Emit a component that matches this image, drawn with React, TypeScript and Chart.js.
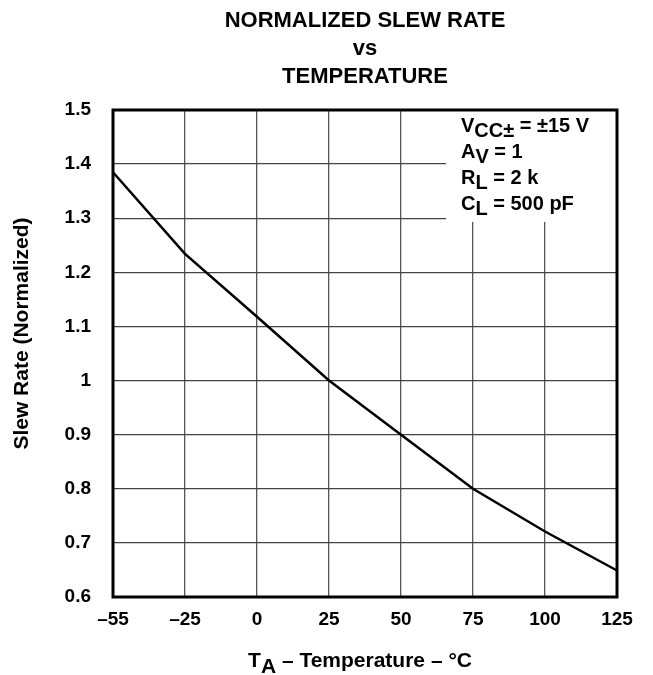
import React, { useEffect, useRef } from "react";
import { Chart, registerables } from "chart.js";

Chart.register(...registerables);

const FONT = "'Liberation Sans', Arial, Helvetica, sans-serif";

const titleLines = ["NORMALIZED SLEW RATE", "vs", "TEMPERATURE"];
const temperatureLabels = ["–55", "–25", "0", "25", "50", "75", "100", "125"];
const slewRate = [1.385, 1.234, 1.118, 1.0, 0.9, 0.8, 0.721, 0.649];
const yMin = 0.6;
const yMax = 1.5;
const yStep = 0.1;
const yAxisTitle = "Slew Rate (Normalized)";
const xAxisTitle = ["T", "A", " – Temperature – °C"];
const conditions: [string, string, string][] = [
  ["V", "CC±", " = ±15 V"],
  ["A", "V", " = 1"],
  ["R", "L", " = 2 k"],
  ["C", "L", " = 500 pF"],
];

function drawSubText(
  ctx: CanvasRenderingContext2D,
  x: number,
  y: number,
  parts: string[],
  shift: number
) {
  let cx = x;
  parts.forEach((p, i) => {
    ctx.fillText(p, cx, i === 1 ? y + shift : y);
    cx += ctx.measureText(p).width;
  });
}

const decor = {
  id: "decor",
  beforeDatasetsDraw(chart: any) {
    const { ctx, chartArea: a } = chart;
    ctx.save();
    ctx.fillStyle = "#ffffff";
    ctx.fillRect(a.right - 171, a.top, 171, 112);
    ctx.restore();
  },
  afterDraw(chart: any) {
    const { ctx, chartArea: a } = chart;
    ctx.save();
    // frame
    ctx.strokeStyle = "#000";
    ctx.lineWidth = 3;
    ctx.strokeRect(a.left, a.top, a.right - a.left, a.bottom - a.top);

    ctx.fillStyle = "#000";
    ctx.textBaseline = "alphabetic";
    ctx.textAlign = "left";
    // conditions box
    ctx.font = `bold 20px ${FONT}`;
    conditions.forEach((c, i) => {
      drawSubText(ctx, a.right - 156, a.top + 22 + i * 26, c, 5);
    });

    // x axis title
    ctx.font = `bold 21px ${FONT}`;
    const w = xAxisTitle.reduce((s, p) => s + ctx.measureText(p).width, 0);
    const cx = (a.left + a.right) / 2 - 5;
    drawSubText(ctx, cx - w / 2, a.bottom + 70, xAxisTitle, 6);

    // y axis title
    ctx.translate(22, (a.top + a.bottom) / 2 - 20);
    ctx.rotate(-Math.PI / 2);
    ctx.textAlign = "center";
    ctx.textBaseline = "middle";
    ctx.fillText(yAxisTitle, 0, 0);
    ctx.restore();
  },
};

export default function App() {
  const ref = useRef<HTMLCanvasElement | null>(null);

  useEffect(() => {
    if (!ref.current) return;
    const chart = new Chart(ref.current, {
      type: "line",
      data: {
        labels: temperatureLabels,
        datasets: [
          {
            data: slewRate,
            borderColor: "#000",
            borderWidth: 2.5,
            pointRadius: 0,
            tension: 0,
            fill: false,
          },
        ],
      },
      options: {
        animation: false,
        responsive: true,
        maintainAspectRatio: false,
        layout: { padding: { left: 0, right: 36, top: 0, bottom: 0 } },
        plugins: {
          legend: { display: false },
          tooltip: { enabled: false },
          title: {
            display: true,
            fullSize: false,
            text: titleLines,
            color: "#000",
            font: { family: FONT, size: 22, weight: "bold", lineHeight: 28 / 22 },
            padding: { top: 7, bottom: 19 },
          },
        },
        scales: {
          x: {
            type: "category",
            offset: false,
            grid: { color: "#555", lineWidth: 1.3, drawTicks: false },
            border: { display: false },
            ticks: {
              color: "#000",
              font: { family: FONT, size: 19, weight: "bold" },
              padding: 11,
              maxRotation: 0,
              autoSkip: false,
            },
            afterFit(scale: any) {
              scale.height = 78;
            },
          },
          y: {
            type: "linear",
            min: yMin,
            max: yMax,
            grid: { color: "#444", lineWidth: 1.3, drawTicks: false },
            border: { display: false },
            ticks: {
              stepSize: yStep,
              color: "#000",
              font: { family: FONT, size: 19, weight: "bold" },
              padding: 22,
              callback: (v: any) => String(Number(Number(v).toFixed(1))),
            },
            afterFit(scale: any) {
              scale.width = 113;
            },
          },
        },
      },
      plugins: [decor],
    });
    return () => chart.destroy();
  }, []);

  return (
    <div style={{ position: "fixed", left: 0, top: 0, width: 653, height: 675, background: "#fff" }}>
      <canvas ref={ref} />
    </div>
  );
}
